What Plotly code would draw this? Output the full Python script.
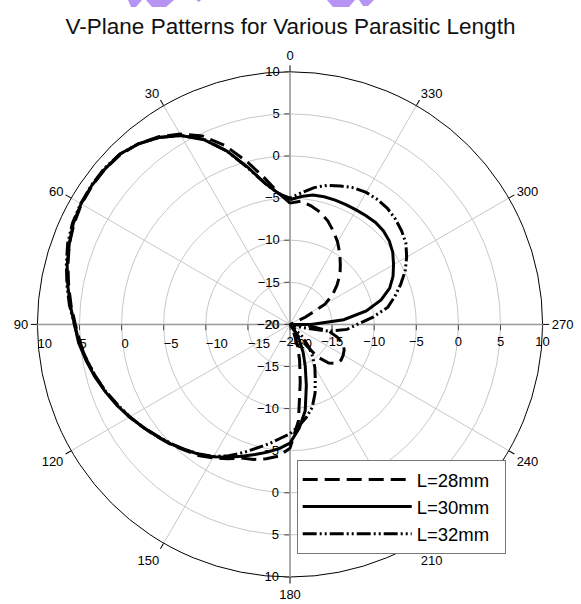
import plotly.graph_objects as go

# Angle grid (degrees) shared by all three measured patterns
angles = list(range(0, 361, 5))

# Normalised V-plane gain (dB) for each parasitic length
gain_28mm = [
    -5.6, -4.3, -2.3, 0.1, 2.6, 4.7, 6.1, 7.2, 8.0, 8.5, 8.7, 8.7, 8.6, 8.3, 7.9, 7.3,
    6.7, 6.1, 5.5, 5.0, 4.5, 3.9, 3.3, 2.6, 2.0, 1.3, 0.7, 0.1, -0.5, -1.0, -1.7, -2.4,
    -3.1, -3.4, -3.8, -4.3, -5.3, -8.5, -13.0, -15.6, -17.4, -19.0, -19.8, -18.0, -15.0, -13.5,
    -12.8, -12.6, -12.7, -12.9, -13.3, -14.2, -15.3, -17.5, -19.8, -20.0, -20.0, -20.0, -19.8,
    -18.0, -15.2, -13.8, -12.7, -11.6, -10.7, -9.7, -8.7, -7.8, -6.9, -6.2, -5.7, -5.3, -5.6,
]
gain_30mm = [
    -5.2, -4.4, -3.0, -0.7, 1.9, 4.2, 5.9, 7.1, 8.0, 8.6, 8.7, 8.75, 8.65, 8.4, 7.9, 7.4,
    6.8, 6.2, 5.6, 5.2, 4.6, 4.0, 3.35, 2.7, 2.0, 1.3, 0.65, 0.05, -0.6, -1.15, -1.85, -2.6,
    -3.35, -4.0, -4.6, -5.2, -5.9, -7.6, -9.6, -12.5, -14.7, -16.3, -17.7, -18.8, -19.5, -20.0,
    -20.0, -20.0, -20.0, -20.0, -20.0, -20.0, -20.0, -20.0, -17.5, -13.6, -10.8, -8.8, -7.4,
    -6.5, -5.8, -5.1, -4.6, -4.3, -4.2, -4.25, -4.3, -4.3, -4.3, -4.3, -4.4, -4.75, -5.2,
]
gain_32mm = [
    -5.0, -4.4, -3.0, -0.8, 1.9, 4.3, 5.9, 7.1, 8.0, 8.6, 8.8, 8.8, 8.7, 8.5, 8.1, 7.5,
    6.9, 6.3, 5.6, 5.1, 4.5, 3.9, 3.3, 2.6, 1.95, 1.3, 0.6, 0.0, -0.6, -1.2, -1.9, -2.8,
    -3.8, -4.8, -5.6, -6.4, -7.0, -7.9, -8.8, -9.8, -11.3, -12.9, -14.1, -15.3, -16.5, -18.0,
    -19.8, -20.0, -20.0, -20.0, -20.0, -18.6, -15.4, -13.2, -12.0, -10.1, -8.2, -7.1, -6.0,
    -4.9, -4.0, -3.2, -2.7, -2.3, -2.0, -1.9, -1.9, -2.1, -2.5, -2.9, -3.5, -4.3, -5.0,
]

series_names = ["L=28mm", "L=30mm", "L=32mm"]
series_gain = [gain_28mm, gain_30mm, gain_32mm]
series_dash = ["15px,7px", "solid", "14px,3px,2px,3px,2px,3px"]

angle_ticks = list(range(0, 360, 30))
r_range = [-20, 10]
r_tick = 5

W, H = 581, 604
FONT = "Liberation Sans, Arial, sans-serif"
GRID = "#c8c8c8"
AXIS = "#9a9a9a"
PAD = "\u00a0\u00a0"  # right-hand padding inside the legend box

# square plotting domain for the polar area
dom_x = [37.4 / W, 542.6 / W]
dom_y = [1 - 577.0 / H, 1 - 71.8 / H]

fig = go.Figure()

# data traces live on the top-most polar layer
for name, gain, dash in zip(series_names, series_gain, series_dash):
    fig.add_trace(go.Scatterpolar(
        r=gain, theta=angles, mode="lines", name=name + PAD,
        line=dict(color="black", width=3, dash=dash),
        subplot="polar5",
    ))

# empty traces so that each axis-only polar layer is rendered
for sp in ["polar", "polar2", "polar3", "polar4"]:
    fig.add_trace(go.Scatterpolar(r=[], theta=[], subplot=sp, showlegend=False,
                                  hoverinfo="skip"))

tick_font = dict(family=FONT, size=13, color="black")

def extra_radial(angle, side, tickangle):
    return dict(
        domain=dict(x=dom_x, y=dom_y),
        bgcolor="rgba(0,0,0,0)",
        angularaxis=dict(visible=False, rotation=90, direction="counterclockwise"),
        radialaxis=dict(
            range=r_range, dtick=r_tick, angle=angle, side=side, tickangle=tickangle,
            showgrid=False, showline=True, linecolor=AXIS, linewidth=1.5,
            ticks="outside", ticklen=5, tickcolor="#444", tickfont=tick_font,
        ),
    )

fig.update_layout(
    width=W, height=H,
    margin=dict(l=0, r=0, t=0, b=0),
    paper_bgcolor="white",
    font=dict(family=FONT, color="black"),
    title=dict(
        text="V-Plane Patterns for Various Parasitic Length",
        x=0.5, xanchor="center", y=1 - 26.0 / H, yanchor="middle",
        font=dict(family=FONT, size=22.5, color="#111"),
    ),
    polar=dict(
        domain=dict(x=dom_x, y=dom_y),
        bgcolor="white",
        angularaxis=dict(
            rotation=90, direction="counterclockwise",
            tickmode="array", tickvals=angle_ticks, ticktext=[str(a) for a in angle_ticks],
            showline=True, linecolor="black", linewidth=1,
            showgrid=True, gridcolor=GRID, gridwidth=1,
            ticks="outside", ticklen=6, tickcolor="black", tickfont=tick_font,
        ),
        radialaxis=dict(
            range=r_range, dtick=r_tick, angle=90, side="counterclockwise", tickangle=90,
            showgrid=True, gridcolor=GRID, gridwidth=1,
            showline=True, linecolor=AXIS, linewidth=1.5,
            ticks="outside", ticklen=5, tickcolor="#444", tickfont=tick_font,
        ),
    ),
    polar2=extra_radial(180, "counterclockwise", 180),
    polar3=extra_radial(270, "clockwise", -90),
    polar4=extra_radial(0, "clockwise", 0),
    polar5=dict(
        domain=dict(x=dom_x, y=dom_y),
        bgcolor="rgba(0,0,0,0)",
        angularaxis=dict(visible=False, rotation=90, direction="counterclockwise"),
        radialaxis=dict(visible=False, range=r_range),
    ),
    legend=dict(
        x=296.7 / W, y=1 - 460.0 / H, xanchor="left", yanchor="top",
        bgcolor="white", bordercolor="#777", borderwidth=1,
        font=dict(family=FONT, size=18.5, color="black"),
        itemwidth=109, tracegroupgap=0,
    ),
    showlegend=True,
)

# faint watermark fragments along the top edge
wm = "#b794f4"
def px_path(pts):
    return "M " + " L ".join(f"{x / W:.4f},{1 - y / H:.4f}" for x, y in pts) + " Z"

for pts in [
    [(128, 0), (142, 0), (136, 7), (131, 7)],
    [(146, 0), (174, 0), (166, 7), (152, 7)],
    [(196, 0), (201, 0), (199, 2)],
    [(327, 0), (355, 0), (349, 7), (333, 7)],
    [(359, 0), (374, 0), (368, 6), (363, 6)],
]:
    fig.add_shape(type="path", path=px_path(pts), xref="paper", yref="paper",
                  fillcolor=wm, line=dict(width=0), layer="above")

fig.write_html("out.html")
